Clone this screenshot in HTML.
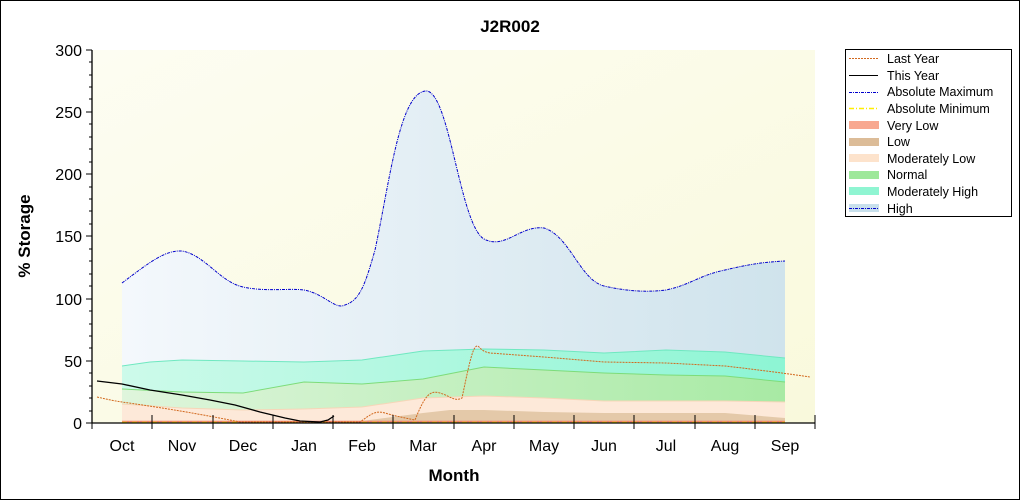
<!DOCTYPE html>
<html><head><meta charset="utf-8"><style>
body{margin:0;background:#fff;}
svg{display:block;font-family:"Liberation Sans",Arial,sans-serif;}
</style></head><body>
<svg width="1020" height="500" viewBox="0 0 1020 500">
<defs>
<linearGradient id="bg" x1="0" y1="0" x2="1" y2="1"><stop offset="0" stop-color="#fdfdf2"/><stop offset="1" stop-color="#f9f9dc"/></linearGradient>
<linearGradient id="hi" x1="0" y1="0" x2="1" y2="0"><stop offset="0" stop-color="#f4f8fc"/><stop offset="1" stop-color="#cfe3ec"/></linearGradient>
<linearGradient id="mh" x1="0" y1="0" x2="1" y2="0"><stop offset="0" stop-color="#cdfaea"/><stop offset="1" stop-color="#8df5d4"/></linearGradient>
<linearGradient id="nm" x1="0" y1="0" x2="1" y2="0"><stop offset="0" stop-color="#dff5dc"/><stop offset="1" stop-color="#a8eaa4"/></linearGradient>
</defs>
<rect x="0.5" y="0.5" width="1019" height="499" fill="#fff" stroke="#000"/>
<text x="510" y="32" text-anchor="middle" font-size="17" font-weight="bold">J2R002</text>
<rect x="92" y="50" width="723" height="373" fill="url(#bg)"/>
<path d="M122,283 C150,262 165,250 182,251 C205,255 220,282 243,287 C265,292 290,288 304,290 C325,294 335,310 345,305 C360,300 365,285 375,250 C390,180 400,90 427,91 C450,95 460,225 484,239 C505,250 520,225 544,228 C570,236 580,280 604,286 C630,292 650,292 666,290 C690,285 700,275 725,270 C750,264 765,262 785,261 L785,423 L122,423 Z" fill="url(#hi)"/>
<path d="M122,283 C150,262 165,250 182,251 C205,255 220,282 243,287 C265,292 290,288 304,290 C325,294 335,310 345,305 C360,300 365,285 375,250 C390,180 400,90 427,91 C450,95 460,225 484,239 C505,250 520,225 544,228 C570,236 580,280 604,286 C630,292 650,292 666,290 C690,285 700,275 725,270 C750,264 765,262 785,261" fill="none" stroke="#0000cc" stroke-width="1" stroke-dasharray="3,1,1,1"/>
<path d="M122,366 L150,362 182,360 243,361 304,362 362,360 423,351 484,349 544,350 604,353 666,350 725,352 785,358 L785,423 122,423 Z" fill="url(#mh)"/>
<path d="M122,366 L150,362 182,360 243,361 304,362 362,360 423,351 484,349 544,350 604,353 666,350 725,352 785,358" fill="none" stroke="#6fe8c0"/>
<path d="M122,389 L182,392 243,393 304,382 362,384 423,379 484,367 544,370 604,373 666,375 725,376 785,382 L785,423 122,423 Z" fill="url(#nm)"/>
<path d="M122,389 L182,392 243,393 304,382 362,384 423,379 484,367 544,370 604,373 666,375 725,376 785,382" fill="none" stroke="#7ddc7a"/>
<path d="M122,404 L182,408 243,410 304,409 362,407 423,398 484,396 544,398 604,401 666,401 725,401 785,402 L785,423 122,423 Z" fill="#fde9d9"/>
<path d="M122,404 L182,408 243,410 304,409 362,407 423,398 484,396 544,398 604,401 666,401 725,401 785,402" fill="none" stroke="#f6d6b8"/>
<path d="M122,422 L304,422 362,421 423,413 450,410 484,410 544,412 604,413 666,413 725,413 785,418 L785,423 122,423 Z" fill="#e4c9a9"/>
<path d="M122,421.5 L785,421.5" stroke="#f08070" stroke-width="1.5"/>
<path d="M122,422.5 L785,422.5" stroke="#ffee00" stroke-width="1.5" stroke-dasharray="5,2,1,2"/>
<path d="M97,397 C110,400 115,401 122,402 C150,406 190,412 240,422 L360,422 C370,415 375,410 385,413 C395,416 405,418 415,420 C425,395 430,390 440,393 C450,396 455,402 462,398 C470,360 473,345 478,346 C482,350 484,352 490,353 L544,357 604,362 666,363 725,366 C760,370 790,374 810,377" fill="none" stroke="#d2691e" stroke-width="1" stroke-dasharray="2,1"/>
<path d="M97,381 L122,384 L150,390 L182,395 L210,400 L235,405 L260,412 L285,418 L300,421 L320,422 L328,420 L334,416" fill="none" stroke="#000" stroke-width="1.3"/>
<path d="M92,50 L92,423 L815,423" fill="none" stroke="#000" stroke-width="1.3"/>
<g stroke="#000">
<path d="M86,50H92M86,112H92M86,174H92M86,236H92M86,299H92M86,361H92M86,423H92"/>
<path d="M89,62H92M89,75H92M89,87H92M89,99H92M89,124H92M89,137H92M89,149H92M89,162H92M89,187H92M89,199H92M89,211H92M89,224H92M89,249H92M89,261H92M89,274H92M89,286H92M89,311H92M89,324H92M89,336H92M89,348H92M89,373H92M89,386H92M89,398H92M89,411H92"/>
<path d="M92,423V429M152,415V429M213,415V429M273,415V429M333,415V429M393,415V429M454,415V429M514,415V429M574,415V429M634,415V429M695,415V429M755,415V429M815,415V429"/>
</g>
<g font-size="16" text-anchor="end">
<text x="82" y="56">300</text><text x="82" y="118">250</text><text x="82" y="180">200</text><text x="82" y="242">150</text><text x="82" y="305">100</text><text x="82" y="367">50</text><text x="82" y="429">0</text>
</g>
<g font-size="16" text-anchor="middle">
<text x="122" y="451">Oct</text><text x="182" y="451">Nov</text><text x="243" y="451">Dec</text><text x="304" y="451">Jan</text><text x="362" y="451">Feb</text><text x="423" y="451">Mar</text><text x="484" y="451">Apr</text><text x="544" y="451">May</text><text x="604" y="451">Jun</text><text x="666" y="451">Jul</text><text x="725" y="451">Aug</text><text x="785" y="451">Sep</text>
</g>
<text x="454" y="481" text-anchor="middle" font-size="17" font-weight="bold">Month</text>
<text transform="translate(30,236) rotate(-90)" text-anchor="middle" font-size="17" font-weight="bold">% Storage</text>
<rect x="845.5" y="49.5" width="166" height="167" fill="#fff" stroke="#000"/>
<g font-size="12.5" fill="#000">
<path d="M849,58.5H878" stroke="#d2691e" stroke-dasharray="2,1"/><text x="887" y="63">Last Year</text>
<path d="M849,75.5H878" stroke="#000"/><text x="887" y="80">This Year</text>
<path d="M849,92.5H878" stroke="#0000cc" stroke-dasharray="3,1,1,1"/><text x="887" y="96">Absolute Maximum</text>
<path d="M849,108.5H878" stroke="#ffee00" stroke-width="1.5" stroke-dasharray="5,2,1,2"/><text x="887" y="113">Absolute Minimum</text>
<rect x="849" y="121" width="30" height="8" fill="#f8a890"/><text x="887" y="130">Very Low</text>
<rect x="849" y="138" width="30" height="8" fill="#dcbc98"/><text x="887" y="146">Low</text>
<rect x="849" y="154" width="30" height="8" fill="#fde3cc"/><text x="887" y="163">Moderately Low</text>
<rect x="849" y="171" width="30" height="8" fill="#9ee89a"/><text x="887" y="179">Normal</text>
<rect x="849" y="187" width="30" height="8" fill="#8ff5d2"/><text x="887" y="196">Moderately High</text>
<rect x="849" y="204" width="30" height="8" fill="#c8e0ec"/><path d="M849,208.5H878" stroke="#0000cc" stroke-dasharray="3,1,1,1"/><text x="887" y="213">High</text>
</g>
</svg>
</body></html>
